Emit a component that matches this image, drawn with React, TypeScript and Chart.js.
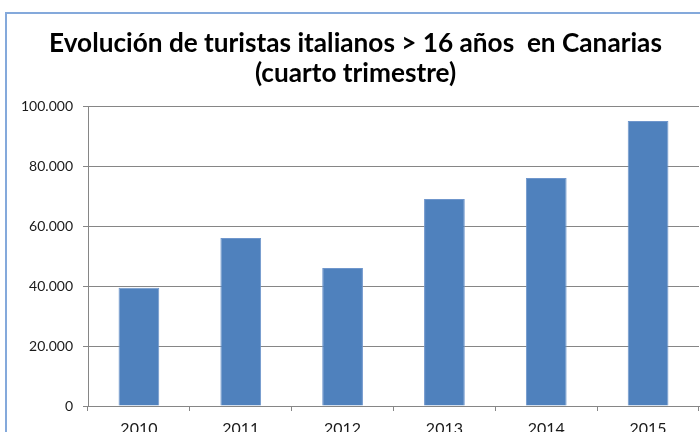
import React, { useEffect, useRef } from "react";
import { Chart, registerables } from "chart.js";

Chart.register(...registerables);

const categories = ["2010", "2011", "2012", "2013", "2014", "2015"];
const visitors = [39400, 56000, 46000, 69000, 76000, 95000];
const yTicks = [0, 20000, 40000, 60000, 80000, 100000];
const titleLines = ["Evolución de turistas italianos > 16 años  en Canarias", "(cuarto trimestre)"];

const fmt = (v: number) => String(Math.round(v)).replace(/\B(?=(\d{3})+(?!\d))/g, ".");

const TITLE_FONT = "Lato";

const borderPlugin = {
  id: "excelBorder",
  beforeDraw(chart: any) {
    const ctx = chart.ctx;
    ctx.save();
    ctx.fillStyle = "#ffffff";
    ctx.fillRect(0, 0, chart.width, chart.height);
    ctx.strokeStyle = "#84A9DB";
    ctx.lineWidth = 2;
    ctx.strokeRect(6, 13, 2000, 2000);
    ctx.restore();
  },
};

export default function App() {
  const ref = useRef<HTMLCanvasElement>(null);
  useEffect(() => {
    if (!ref.current) return;
    const mctx = document.createElement("canvas").getContext("2d")!;
    mctx.font = `bold 100px ${TITLE_FONT}`;
    const w = mctx.measureText(titleLines[0]).width;
    const titleSize = Math.round((614 / w) * 100 * 10) / 10;

    const chart = new Chart(ref.current, {
      type: "bar",
      data: {
        labels: categories,
        datasets: [
          {
            data: visitors,
            backgroundColor: "#4F81BD",
            borderColor: "#6F96CC",
            borderWidth: 1,
            barPercentage: 0.4,
            categoryPercentage: 1,
          },
        ],
      },
      plugins: [borderPlugin],
      options: {
        animation: false,
        responsive: true,
        maintainAspectRatio: false,
        layout: { padding: { left: 12, right: 1, top: 0, bottom: 0 } },
        plugins: {
          legend: { display: false },
          tooltip: { enabled: false },
          title: {
            display: true,
            text: titleLines,
            color: "#000000",
            font: { family: TITLE_FONT, weight: "bold", size: titleSize, lineHeight: 30 / titleSize },
            padding: { top: 29, bottom: 17 },
          },
        },
        scales: {
          x: {
            offset: true,
            grid: {
              display: true,
              drawOnChartArea: false,
              drawTicks: true,
              tickLength: 5,
              color: "#868686",
              offset: true,
            },
            border: { display: true, color: "#868686" },
            ticks: {
              color: "#1a1a1a",
              font: { family: "Lato", size: 16 },
              padding: 8,
              maxRotation: 0,
            },
            afterFit(scale: any) {
              scale.height = 26;
            },
          },
          y: {
            min: 0,
            max: 100000,
            grid: { color: "#868686", tickLength: 5, drawTicks: true },
            border: { display: true, color: "#868686" },
            ticks: {
              color: "#1a1a1a",
              font: { family: "Lato", size: 14 },
              padding: 10,
              callback: (v: any) => fmt(Number(v)),
            },
            afterBuildTicks(scale: any) {
              scale.ticks = yTicks.map((v) => ({ value: v }));
            },
            afterFit(scale: any) {
              scale.width = 76;
            },
          },
        },
      },
    });
    return () => chart.destroy();
  }, []);

  return (
    <div style={{ position: "fixed", left: 0, top: 0, width: 700, height: 432, overflow: "hidden", background: "#fff" }}>
      <canvas ref={ref} />
    </div>
  );
}
